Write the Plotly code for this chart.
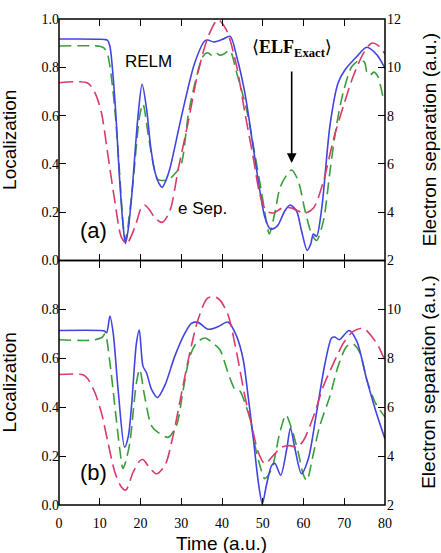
import plotly.graph_objects as go

# ---------------- data ----------------
# Panel (a)
t_relm_a = [0, 5, 10, 11.2, 11.9, 12.5, 13.7, 14.9, 15.7, 16.3, 17.0, 17.8, 19.4, 20.4, 21.5, 22.5, 23.5, 24.5,
            25.3, 26.2, 27.2, 30.1, 33.3, 35.8, 36.5, 38, 40, 42, 43.6, 45.6, 47.7, 49.3, 50.5, 51.8, 53, 53.8,
            55.4, 56.7, 58.3, 59.5, 60.9, 61.8, 62.4, 63.2, 64.5, 66.5, 68.5, 70.2, 73.1, 75.5, 78, 80]
relm_a = [0.917, 0.917, 0.916, 0.915, 0.912, 0.886, 0.668, 0.33, 0.15, 0.07, 0.13, 0.26, 0.6, 0.73, 0.627, 0.47,
          0.37, 0.32, 0.303, 0.33, 0.38, 0.6, 0.818, 0.91, 0.913, 0.905, 0.915, 0.928, 0.845, 0.695, 0.464, 0.287,
          0.18, 0.131, 0.135, 0.148, 0.205, 0.23, 0.205, 0.124, 0.042, 0.07, 0.11, 0.10, 0.22, 0.56, 0.736, 0.79,
          0.845, 0.883, 0.852, 0.795]

t_elf_a = [0, 10, 11.0, 11.8, 12.5, 13.7, 14.9, 15.8, 16.4, 17.2, 18.2, 19.8, 20.6, 21.9, 23.5, 24.3, 26.8, 28.5,
           30, 31.7, 33.3, 35.3, 36.5, 37.5, 38.5, 39.5, 40.5, 41.9, 43.6, 46, 48.1, 49.8, 51, 51.6, 53, 54.2,
           55.9, 57.1, 58.7, 60.4, 62, 63.2, 64.9, 66.5, 68.1, 69.8, 71.9, 73.9, 75, 75.7, 76.5, 77.3, 78.3, 79.5, 80]
elf_a = [0.888, 0.887, 0.88, 0.86, 0.804, 0.627, 0.355, 0.14, 0.085, 0.18, 0.33, 0.6, 0.648, 0.52, 0.37, 0.335,
         0.335, 0.36, 0.4, 0.6, 0.73, 0.845, 0.86, 0.85, 0.86, 0.85, 0.855, 0.87, 0.777, 0.627, 0.437, 0.273,
         0.151, 0.11, 0.2, 0.3, 0.355, 0.375, 0.33, 0.205, 0.11, 0.083, 0.165, 0.37, 0.56, 0.7, 0.804, 0.83,
         0.82, 0.77, 0.77, 0.78, 0.76, 0.68, 0.66]

t_sep_a = [0, 7, 8.8, 10.4, 12, 13.7, 15.3, 16.6, 18.6, 20.2, 21, 22.2, 23.5, 25.3, 27.2, 29.3, 31.7, 34.1, 36.6,
           39, 41.1, 43.6, 45.6, 47.7, 49.3, 50.9, 52.6, 54.6, 56.7, 58.7, 60.4, 62.5, 64.9, 67.4, 69.8, 72.2,
           74.7, 76.7, 78.4, 80]
sep_a = [9.36, 9.35, 8.95, 8.13, 6.37, 4.46, 2.97, 2.7, 3.37, 4.19, 4.3, 4.1, 3.78, 3.58, 4.05, 5.82, 7.73, 9.78,
         11.27, 11.97, 11.54, 10.04, 8.13, 6.23, 4.73, 4.05, 3.97, 4.16, 4.19, 4.05, 3.96, 4.19, 5.28, 7.05, 8.4,
         9.63, 10.58, 11.0, 10.9, 10.55]

# Panel (b)
t_relm_b = [0, 10, 11.1, 11.7, 12.5, 13.3, 14.5, 16.1, 17.0, 17.8, 19, 19.7, 20.6, 21.5, 22.7, 24.2, 26, 28.4,
            30.9, 32.5, 34.1, 36.6, 39.1, 41.5, 43.6, 45.2, 46.4, 47.7, 48.9, 49.9, 50.9, 52.2, 53, 54.4, 55.9,
            56.8, 57.9, 59.5, 61.2, 63.2, 65.3, 66.9, 67.7, 68.8, 71.2, 73.1, 75.5, 77.6, 80]
relm_b = [0.714, 0.714, 0.712, 0.705, 0.773, 0.703, 0.473, 0.236, 0.28, 0.405, 0.662, 0.716, 0.568, 0.54, 0.473,
          0.44, 0.49, 0.608, 0.703, 0.743, 0.747, 0.719, 0.73, 0.748, 0.69, 0.595, 0.446, 0.27, 0.095, 0.005,
          0.081, 0.162, 0.17, 0.122, 0.23, 0.315, 0.23, 0.128, 0.19, 0.378, 0.581, 0.683, 0.687, 0.676, 0.714,
          0.669, 0.514, 0.392, 0.27]

t_elf_b = [0, 8, 10.5, 11.3, 12.5, 13.7, 14.9, 15.7, 16.4, 17.4, 19, 19.8, 21, 22.7, 24.3, 26.8, 28.8, 30.5, 32.1,
           33.7, 35.8, 38.2, 39.5, 41.5, 43.2, 44.4, 45.6, 46.9, 48.1, 49.3, 50.5, 52.2, 54.2, 55.7, 57.1, 58.7,
           60, 60.8, 62.5, 64, 66.5, 68.5, 70.6, 72.1, 73.9, 75.5, 77.6, 80]
elf_b = [0.676, 0.674, 0.685, 0.70, 0.581, 0.405, 0.23, 0.149, 0.18, 0.257, 0.5, 0.554, 0.446, 0.324, 0.297,
         0.277, 0.324, 0.473, 0.608, 0.662, 0.683, 0.656, 0.635, 0.54, 0.473, 0.466, 0.419, 0.351, 0.243, 0.162,
         0.108, 0.148, 0.297, 0.368, 0.311, 0.216, 0.122, 0.1, 0.216, 0.324, 0.446, 0.568, 0.649, 0.66, 0.62,
         0.514, 0.419, 0.36]

t_sep_b = [0, 6, 7.1, 8.8, 10.4, 12, 13.7, 15.3, 16.4, 18.2, 19.8, 20.6, 22.3, 23.9, 26, 28, 30.1, 32.1, 34.1,
           36.4, 38.2, 39.5, 41.5, 43.6, 45.6, 47.3, 48.9, 50.5, 52.6, 54.6, 56.7, 58.3, 60, 62.5, 64.9, 67.4,
           69.8, 72.2, 74.7, 76.7, 78.4, 80]
sep_b = [7.34, 7.32, 7.15, 6.6, 5.78, 4.57, 3.35, 2.74, 2.61, 3.35, 3.8, 3.86, 3.5, 3.28, 3.62, 4.84, 6.6, 8.22,
         9.57, 10.45, 10.52, 10.38, 9.77, 8.22, 6.46, 5.24, 4.16, 3.69, 4.03, 4.36, 4.43, 4.36, 4.64, 5.65, 6.87,
         7.81, 8.62, 9.1, 9.23, 8.9, 8.49, 7.9]

x_ticks = [0, 10, 20, 30, 40, 50, 60, 70, 80]
loc_ticks_a = [0.0, 0.2, 0.4, 0.6, 0.8, 1.0]
sep_ticks_a = [2, 4, 6, 8, 10, 12]
loc_ticks_b = [0.0, 0.2, 0.4, 0.6, 0.8]
sep_ticks_b = [2, 4, 6, 8, 10]

# ---------------- styles ----------------
BLUE = "#4343e0"
GREEN = "#3a9e3a"
RED = "#d93a6a"
SERIF = "Liberation Serif, DejaVu Serif, serif"
SANS = "Liberation Sans, Arial, sans-serif"
LW = 1.6

fig = go.Figure()

def add_panel(xa, ya_left, ya_right, t_r, r, t_e, e, t_s, s):
    fig.add_trace(go.Scatter(x=t_s, y=s, xaxis=xa, yaxis=ya_right, mode="lines",
                             line=dict(color=RED, width=LW, dash="14px,6px", shape="spline", smoothing=0.8),
                             showlegend=False))
    fig.add_trace(go.Scatter(x=t_e, y=e, xaxis=xa, yaxis=ya_left, mode="lines",
                             line=dict(color=GREEN, width=LW, dash="12px,6px", shape="spline", smoothing=0.8),
                             showlegend=False))
    fig.add_trace(go.Scatter(x=t_r, y=r, xaxis=xa, yaxis=ya_left, mode="lines",
                             line=dict(color=BLUE, width=LW, shape="spline", smoothing=0.8),
                             showlegend=False))

add_panel("x2", "y", "y2", t_relm_a, relm_a, t_elf_a, elf_a, t_sep_a, sep_a)
add_panel("x", "y3", "y4", t_relm_b, relm_b, t_elf_b, elf_b, t_sep_b, sep_b)

split = 248 / 493.0

axis_common = dict(showline=False, ticks="inside", ticklen=7,
                   tickwidth=1.2, tickcolor="black", showgrid=False, zeroline=False,
                   tickfont=dict(family=SERIF, size=14, color="black"))

fig.update_layout(
    width=441, height=553,
    margin=dict(l=59, r=56, t=12, b=48),
    paper_bgcolor="white", plot_bgcolor="white",
    xaxis=dict(domain=[0, 1], anchor="y3", range=[0, 80], tickvals=x_ticks, mirror="ticks",
               ticklabelstandoff=8, **axis_common),
    xaxis2=dict(domain=[0, 1], anchor="y", range=[0, 80], tickvals=x_ticks, mirror="ticks",
                showticklabels=False, matches="x", **axis_common),
    yaxis=dict(domain=[split, 1], anchor="x2", range=[0, 1], tickvals=loc_ticks_a, tickformat=".1f",
               ticklabelstandoff=-1, **axis_common),
    yaxis2=dict(domain=[split, 1], anchor="x2", overlaying="y", side="right", range=[2, 12],
                tickvals=sep_ticks_a, ticklabelstandoff=1, **axis_common),
    yaxis3=dict(domain=[0, split], anchor="x", range=[0, 1], tickvals=loc_ticks_b, tickformat=".1f",
                ticklabelstandoff=-1, **axis_common),
    yaxis4=dict(domain=[0, split], anchor="x", overlaying="y3", side="right", range=[2, 12],
                tickvals=sep_ticks_b, ticklabelstandoff=1, **axis_common),
    shapes=[
        dict(type="rect", xref="paper", yref="paper", x0=0, x1=1, y0=split, y1=1,
             line=dict(color="black", width=1.5), fillcolor="rgba(0,0,0,0)", layer="above"),
        dict(type="rect", xref="paper", yref="paper", x0=0, x1=1, y0=0, y1=split,
             line=dict(color="black", width=1.5), fillcolor="rgba(0,0,0,0)", layer="above"),
    ],
)

def px2x(px):
    return (px - 59.3) / 325.7

def py2y(py):
    return (505 - py) / 493.0

ann = []
# axis titles
for yc in (135, 381):
    ann.append(dict(text="Localization", x=px2x(10), y=py2y(yc), xref="paper", yref="paper",
                    textangle=-90, showarrow=False, font=dict(family=SANS, size=19, color="black"),
                    xanchor="center", yanchor="middle"))
    ann.append(dict(text="Electron separation (a.u.)", x=px2x(429), y=py2y(yc), xref="paper", yref="paper",
                    textangle=-90, showarrow=False, font=dict(family=SANS, size=19, color="black"),
                    xanchor="center", yanchor="middle"))
ann.append(dict(text="Time (a.u.)", x=px2x(222), y=py2y(544), xref="paper", yref="paper", showarrow=False,
                font=dict(family=SANS, size=19, color="black"), xanchor="center", yanchor="middle"))
# in-plot labels
ann.append(dict(text="RELM", x=px2x(149), y=py2y(55), xref="paper", yref="paper", showarrow=False,
                font=dict(family=SANS, size=17, color="black"), xanchor="center", yanchor="middle"))
ann.append(dict(text="e Sep.", x=px2x(203), y=py2y(204), xref="paper", yref="paper", showarrow=False,
                font=dict(family=SANS, size=17, color="black"), xanchor="center", yanchor="middle"))
ann.append(dict(text="(a)", x=px2x(94), y=py2y(227), xref="paper", yref="paper", showarrow=False,
                font=dict(family=SANS, size=22, color="black"), xanchor="center", yanchor="middle"))
ann.append(dict(text="(b)", x=px2x(94), y=py2y(472), xref="paper", yref="paper", showarrow=False,
                font=dict(family=SANS, size=22, color="black"), xanchor="center", yanchor="middle"))
ann.append(dict(text="⟨<b>ELF<sub>Exact</sub></b>⟩", x=px2x(292.5), y=py2y(42), xref="paper", yref="paper",
                showarrow=False, font=dict(family=SERIF, size=18, color="black"),
                xanchor="center", yanchor="middle"))
# arrow
ann.append(dict(text="", x=57.1, y=0.404, xref="x2", yref="y", showarrow=True, ax=0, ay=-93,
                arrowhead=2, arrowsize=1.2, arrowwidth=1.6, arrowcolor="black", standoff=0))
fig.update_layout(annotations=ann)

fig.write_html("out.html")
